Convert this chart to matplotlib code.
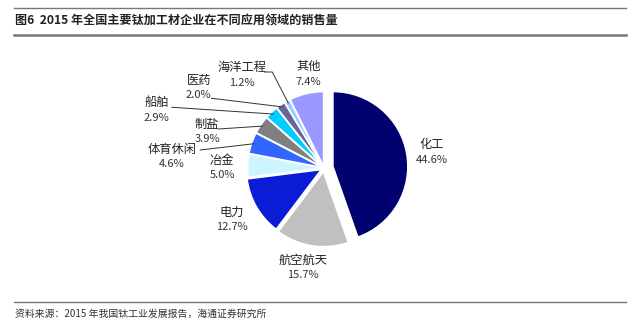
import numpy as np
import matplotlib
matplotlib.use("Agg")
import matplotlib.pyplot as plt
from matplotlib.lines import Line2D

plt.rcParams['font.family'] = ['Noto Sans CJK SC', 'DejaVu Sans']

categories = ['化工', '航空航天', '电力', '冶金', '体育休闲', '制盐', '船舶', '医药', '海洋工程', '其他']
values = [44.6, 15.7, 12.7, 5.0, 4.6, 3.9, 2.9, 2.0, 1.2, 7.4]
colors = ['#00006E', '#C0C0C0', '#0B1BD6', '#CCF5FF', '#3366FF', '#7F7F7F',
          '#00CCFF', '#666699', '#99CCFF', '#9999FF']
explode = [0.12, 0.05, 0.04, 0.02, 0.02, 0.02, 0.02, 0.02, 0.02, 0.02]

# label positions (data units, radius = 1)
label_pos = {
    '化工': (1.44, 0.21), '航空航天': (-0.28, -1.33), '电力': (-1.23, -0.69),
    '冶金': (-1.36, 0.0), '体育休闲': (-2.03, 0.15), '制盐': (-1.56, 0.48),
    '船舶': (-2.23, 0.77), '医药': (-1.67, 1.07), '海洋工程': (-1.09, 1.24),
    '其他': (-0.21, 1.25),
}
# leader line start offsets relative to label centre
leader_start = {
    '体育休闲': (0.38, 0.09), '制盐': (0.15, 0.04), '船舶': (0.2, 0.04),
    '医药': (0.17, -0.14), '海洋工程': (0.3, 0.04),
}

fig = plt.figure(figsize=(6.4, 3.26), dpi=100)

# header / footer rules
fig.add_artist(Line2D([0.022, 0.978], [1 - 8/326, 1 - 8/326], color='#777777', lw=1.0))
fig.add_artist(Line2D([0.022, 0.978], [1 - 35/326, 1 - 35/326], color='#777777', lw=1.8))
fig.add_artist(Line2D([0.022, 0.978], [1 - 302/326, 1 - 302/326], color='#777777', lw=1.0))
fig.text(0.024, 1 - 21/326, '图6  2015 年全国主要钛加工材企业在不同应用领域的销售量',
         fontsize=8.7, fontweight='bold', va='center', ha='left', color='#222222')
fig.text(0.024, 1 - 314/326, '资料来源：2015 年我国钛工业发展报告，海通证券研究所',
         fontsize=7.1, va='center', ha='left', color='#333333')

cx, cy = 324/640, 1 - 168/326
w, h = 195/640, 195/326
ax = fig.add_axes([cx - w/2, cy - h/2, w, h])
ax.set_xlim(-1.3, 1.3)
ax.set_ylim(-1.3, 1.3)
ax.axis('off')

wedges, _ = ax.pie(values, colors=colors, startangle=90, counterclock=False,
                   explode=explode, radius=1.0,
                   wedgeprops=dict(edgecolor='white', linewidth=1.2))
ax.set_xlim(-1.3, 1.3)
ax.set_ylim(-1.3, 1.3)

for wdg, cat, val in zip(wedges, categories, values):
    lx, ly = label_pos[cat]
    ax.text(lx, ly + 0.1, cat, ha='center', va='center', fontsize=8.8,
            color='#222222', clip_on=False)
    ax.text(lx, ly - 0.1, f'{val:.1f}%', ha='center', va='center', fontsize=8,
            color='#333333', clip_on=False)
    if cat in leader_start:
        ang = np.deg2rad((wdg.theta1 + wdg.theta2) / 2)
        c = wdg.center
        px, py = c[0] + 0.97 * np.cos(ang), c[1] + 0.97 * np.sin(ang)
        ox, oy = leader_start[cat]
        sx, sy = lx + ox, ly + oy
        if cat == '海洋工程':
            ax.plot([sx, sx + 0.1, px], [sy, sy, py],
                    color='#333333', lw=0.7, clip_on=False)
        else:
            ax.plot([sx, px], [sy, py], color='#333333', lw=0.7, clip_on=False)

fig.savefig('out.png', dpi=100, facecolor='white')
